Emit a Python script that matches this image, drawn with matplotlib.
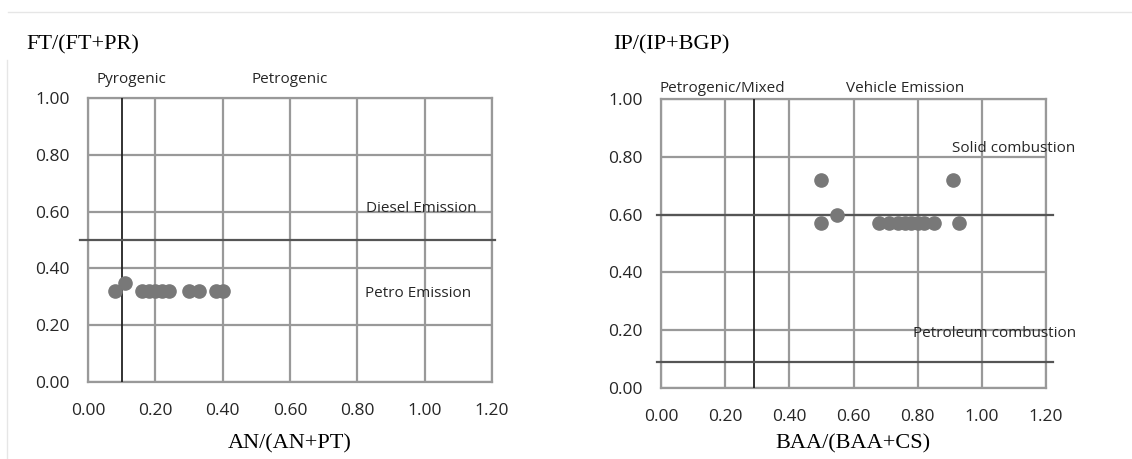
import matplotlib
matplotlib.use("Agg")
import matplotlib.pyplot as plt
from matplotlib.lines import Line2D

# ---- diagnostic ratio data ----
an_ratio = [0.08, 0.11, 0.16, 0.18, 0.20, 0.22, 0.24, 0.30, 0.33, 0.38, 0.40]
ft_ratio = [0.32, 0.35, 0.32, 0.32, 0.32, 0.32, 0.32, 0.32, 0.32, 0.32, 0.32]

baa_ratio = [0.50, 0.50, 0.55, 0.68, 0.71, 0.74, 0.76, 0.78, 0.80, 0.82, 0.85, 0.93, 0.91]
ip_ratio = [0.72, 0.57, 0.60, 0.57, 0.57, 0.57, 0.57, 0.57, 0.57, 0.57, 0.57, 0.57, 0.72]

x_ticks = [0.0, 0.2, 0.4, 0.6, 0.8, 1.0, 1.2]
y_ticks = [0.0, 0.2, 0.4, 0.6, 0.8, 1.0]

# source thresholds
left_vline, left_hline = 0.10, 0.50
right_vline, right_hlines = 0.29, [0.60, 0.09]

W, H = 1132, 459
GRID = "#999999"
DOT = "#787878"
INK = "#262626"
SANS = "Open Sans"
SERIF = "Liberation Serif"
LBL = 11

fig = plt.figure(figsize=(W / 100, H / 100), dpi=100)


def px_axes(x0, y0, x1, y1):
    return fig.add_axes([x0 / W, 1 - y1 / H, (x1 - x0) / W, (y1 - y0) / H])


def style(ax):
    ax.set_xlim(0, 1.2)
    ax.set_ylim(0, 1.0)
    ax.set_xticks(x_ticks)
    ax.set_yticks(y_ticks)
    ax.set_xticklabels([f"{v:.2f}" for v in x_ticks], fontfamily=SANS, fontsize=12.5, color=INK)
    ax.set_yticklabels([f"{v:.2f}" for v in y_ticks], fontfamily=SANS, fontsize=12.5, color=INK)
    ax.tick_params(axis="y", length=0, pad=13)
    ax.tick_params(axis="x", length=0, pad=15)
    ax.grid(True, color=GRID, linewidth=1.6)
    ax.set_axisbelow(True)
    for s in ax.spines.values():
        s.set_color(GRID)
        s.set_linewidth(1.6)


# left panel: FT/(FT+PR) vs AN/(AN+PT)
ax1 = px_axes(88, 98, 492, 382)
style(ax1)
ax1.axvline(left_vline, color="#222222", linewidth=1.3, zorder=3)
ax1.axhline(left_hline, xmin=-0.02, xmax=1.008, color="#555555", linewidth=1.6, clip_on=False, zorder=3)
ax1.plot(an_ratio, ft_ratio, "o", color=DOT, markersize=9.5, zorder=4)
ax1.text(0.13, 1.04, "Pyrogenic", fontfamily=SANS, fontsize=LBL, color=INK, ha="center", va="bottom")
ax1.text(0.60, 1.04, "Petrogenic", fontfamily=SANS, fontsize=LBL, color=INK, ha="center", va="bottom")
ax1.text(0.99, 0.61, "Diesel Emission", fontfamily=SANS, fontsize=LBL, color=INK, ha="center", va="center")
ax1.text(0.98, 0.31, "Petro Emission", fontfamily=SANS, fontsize=LBL, color=INK, ha="center", va="center")
fig.text(26 / W, 1 - 45 / H, "FT/(FT+PR)", fontfamily=SERIF, fontsize=16, ha="left", va="center")
fig.text(290 / W, 1 - 444 / H, "AN/(AN+PT)", fontfamily=SERIF, fontsize=16, ha="center", va="center")

# right panel: IP/(IP+BGP) vs BAA/(BAA+CS)
ax2 = px_axes(661, 99, 1046, 388)
style(ax2)
ax2.axvline(right_vline, color="#222222", linewidth=1.3, zorder=3)
for yv in right_hlines:
    ax2.axhline(yv, xmin=-0.01, xmax=1.018, color="#555555", linewidth=1.6, clip_on=False, zorder=3)
ax2.plot(baa_ratio, ip_ratio, "o", color=DOT, markersize=9.5, zorder=4)
ax2.text(0.19, 1.01, "Petrogenic/Mixed", fontfamily=SANS, fontsize=LBL, color=INK, ha="center", va="bottom")
ax2.text(0.76, 1.01, "Vehicle Emission", fontfamily=SANS, fontsize=LBL, color=INK, ha="center", va="bottom")
ax2.text(1.10, 0.83, "Solid combustion", fontfamily=SANS, fontsize=LBL, color=INK, ha="center", va="center",
         clip_on=False)
ax2.text(1.04, 0.19, "Petroleum combustion", fontfamily=SANS, fontsize=LBL, color=INK, ha="center", va="center",
         clip_on=False)
fig.text(613 / W, 1 - 45 / H, "IP/(IP+BGP)", fontfamily=SERIF, fontsize=16, ha="left", va="center")
fig.text(853 / W, 1 - 444 / H, "BAA/(BAA+CS)", fontfamily=SERIF, fontsize=16, ha="center", va="center")

# faint page borders
fig.add_artist(Line2D([8 / W, 1], [1 - 12 / H, 1 - 12 / H], color="#e6e6e6", linewidth=1))
fig.add_artist(Line2D([7 / W, 7 / W], [1 - 60 / H, 0], color="#e6e6e6", linewidth=1))

fig.savefig("out.png", dpi=100)
